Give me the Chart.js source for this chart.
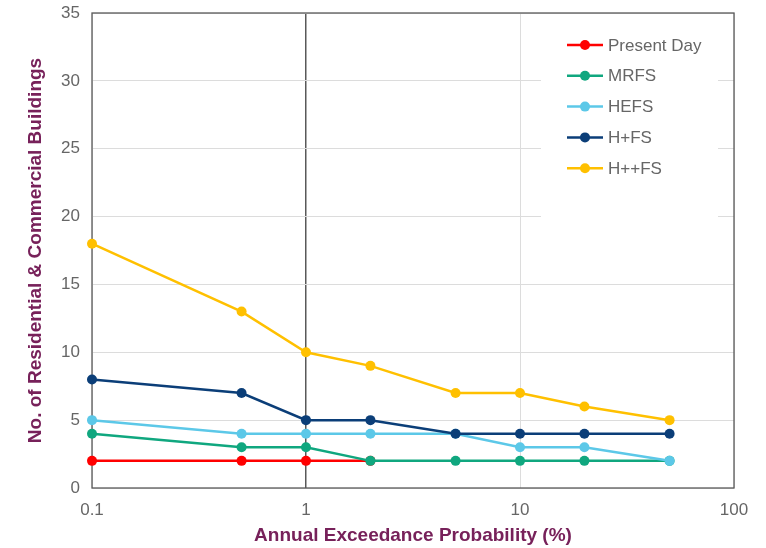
<!DOCTYPE html>
<html>
<head>
<meta charset="utf-8">
<script src="https://cdn.jsdelivr.net/npm/chart.js@4/dist/chart.umd.min.js"></script>
<style>
  html, body { margin: 0; padding: 0; background: #ffffff; }
  #wrap { width: 766px; height: 548px; }
</style>
</head>
<body>
<div id="wrap"><canvas id="chart" width="766" height="548"></canvas></div>
<script>
// Annual exceedance probability (%) for each modelled event
const probabilities = [0.1, 0.5, 1, 2, 5, 10, 20, 50];

// Number of residential & commercial buildings affected per scenario
const presentDay = [2, 2, 2, 2];
const mrfs = [4, 3, 3, 2, 2, 2, 2, 2];
const hefs = [5, 4, 4, 4, 4, 3, 3, 2];
const hPlusFs = [8, 7, 5, 5, 4, 4, 4, 4];
const hPlusPlusFs = [18, 13, 10, 9, 7, 7, 6, 5];

const seriesNames = ['Present Day', 'MRFS', 'HEFS', 'H+FS', 'H++FS'];
const xTickValues = [0.1, 1, 10, 100];

const colors = ['#ff0000', '#10a77f', '#5cc8e8', '#0b3e78', '#ffc000'];
const seriesValues = [presentDay, mrfs, hefs, hPlusFs, hPlusPlusFs];

const datasets = seriesNames.map((name, i) => ({
  label: name,
  data: seriesValues[i].map((v, j) => ({ x: probabilities[j], y: v })),
  borderColor: colors[i],
  backgroundColor: colors[i],
  borderWidth: 2.5,
  pointRadius: 5,
  pointHoverRadius: 5,
  pointBorderWidth: 0,
  tension: 0,
  clip: false,
  // later scenarios are painted over earlier ones
  order: seriesNames.length - i
}));

const TICK_COLOR = '#666666';
const TITLE_COLOR = '#77215a';

// Frame around the plot area plus the boxed legend in its upper right corner
const framePlugin = {
  id: 'frameAndLegend',
  beforeDatasetsDraw(chart) {
    const { ctx, chartArea: a } = chart;
    ctx.save();
    // legend panel
    const boxL = a.left + 449, boxT = a.top + 1, boxR = a.right - 16, boxB = a.top + 212;
    ctx.fillStyle = '#ffffff';
    ctx.fillRect(boxL, boxT, boxR - boxL, boxB - boxT);
    // frame
    ctx.strokeStyle = '#595959';
    ctx.lineWidth = 1.3;
    ctx.strokeRect(a.left, a.top, a.right - a.left, a.bottom - a.top);
    // legend entries
    ctx.font = '17px "Liberation Sans", Arial, sans-serif';
    ctx.textBaseline = 'middle';
    ctx.textAlign = 'left';
    chart.data.datasets.forEach((ds, i) => {
      const y = a.top + 32 + i * 30.8;
      const x0 = a.left + 475;
      ctx.strokeStyle = ds.borderColor;
      ctx.lineWidth = 2.5;
      ctx.beginPath();
      ctx.moveTo(x0, y);
      ctx.lineTo(x0 + 36, y);
      ctx.stroke();
      ctx.fillStyle = ds.borderColor;
      ctx.beginPath();
      ctx.arc(x0 + 18, y, 5, 0, Math.PI * 2);
      ctx.fill();
      ctx.fillStyle = TICK_COLOR;
      ctx.fillText(ds.label, x0 + 41, y + 1);
    });
    ctx.restore();
  }
};

new Chart(document.getElementById('chart'), {
  type: 'line',
  data: { datasets },
  plugins: [framePlugin],
  options: {
    responsive: false,
    animation: false,
    layout: { padding: { top: 13, right: 32, left: 0, bottom: 0 } },
    plugins: {
      legend: { display: false },
      tooltip: { enabled: false }
    },
    scales: {
      x: {
        type: 'logarithmic',
        min: 0.1,
        max: 100,
        afterBuildTicks(scale) {
          scale.ticks = xTickValues.map(v => ({ value: v }));
        },
        afterFit(scale) {
          scale.height = 60;
          scale.paddingLeft = 0;
          scale.paddingRight = 0;
        },
        ticks: {
          color: TICK_COLOR,
          font: { family: '"Liberation Sans", Arial, sans-serif', size: 17 },
          padding: 12,
          maxRotation: 0,
          autoSkip: false,
          callback: (v) => String(v)
        },
        grid: {
          drawTicks: false,
          color: (ctx) => (ctx.tick && ctx.tick.value === 1 ? '#595959' : '#dcdcdc'),
          lineWidth: (ctx) => (ctx.tick && ctx.tick.value === 1 ? 1.5 : 1)
        },
        border: { display: false },
        title: {
          display: true,
          text: 'Annual Exceedance Probability (%)',
          color: TITLE_COLOR,
          font: { family: '"Liberation Sans", Arial, sans-serif', size: 19, weight: 'bold' },
          padding: { top: 0, bottom: 1 }
        }
      },
      y: {
        min: 0,
        max: 35,
        ticks: {
          stepSize: 5,
          color: TICK_COLOR,
          font: { family: '"Liberation Sans", Arial, sans-serif', size: 17 },
          padding: 12
        },
        afterFit(scale) {
          scale.width = 92;
          scale.paddingTop = 0;
          scale.paddingBottom = 0;
        },
        grid: {
          drawTicks: false,
          color: '#dcdcdc',
          lineWidth: 1
        },
        border: { display: false },
        title: {
          display: true,
          text: 'No. of Residential & Commercial Buildings',
          color: TITLE_COLOR,
          font: { family: '"Liberation Sans", Arial, sans-serif', size: 19, weight: 'bold' },
          padding: { top: 24, bottom: 0 }
        }
      }
    }
  }
});
</script>
</body>
</html>
